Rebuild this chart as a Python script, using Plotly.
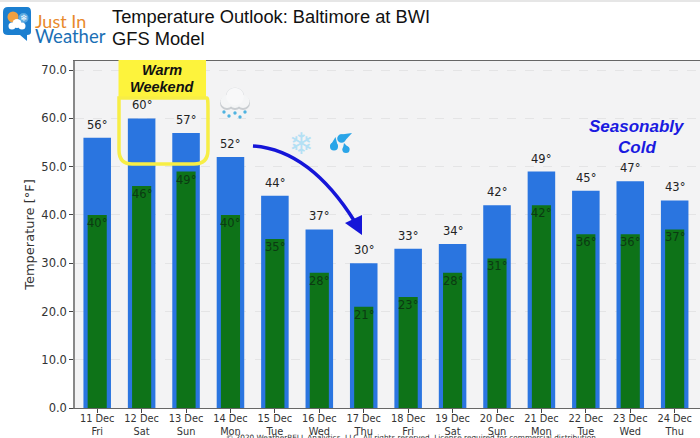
import math
import plotly.graph_objects as go

days = ["11 Dec", "12 Dec", "13 Dec", "14 Dec", "15 Dec", "16 Dec", "17 Dec",
        "18 Dec", "19 Dec", "20 Dec", "21 Dec", "22 Dec", "23 Dec", "24 Dec"]
weekdays = ["Fri", "Sat", "Sun", "Mon", "Tue", "Wed", "Thu",
            "Fri", "Sat", "Sun", "Mon", "Tue", "Wed", "Thu"]
highs = [56, 60, 57, 52, 44, 37, 30, 33, 34, 42, 49, 45, 47, 43]
lows = [40, 46, 49, 40, 35, 28, 21, 23, 28, 31, 42, 36, 36, 37]
y_ticks = [0, 10, 20, 30, 40, 50, 60, 70]

W, H = 700, 438
labels = [f"{d}<br>{w}" for d, w in zip(days, weekdays)]


# pixel position on the picture -> paper coords
def px(x, y):
    return f"{x / W:.4f},{1 - y / H:.4f}"


def path_shape(d, **kw):
    return dict(type="path", xref="paper", yref="paper", path=d, layer="above", **kw)


def circle(x, y, r, fill):
    return dict(type="circle", xref="paper", yref="paper", layer="above",
                x0=(x - r) / W, x1=(x + r) / W, y0=1 - (y + r) / H, y1=1 - (y - r) / H,
                fillcolor=fill, line=dict(width=0))


def drop(cx, cy, r, tx, ty, fill="#2aa5e8"):
    # round blob plus a pointed tip
    a = math.atan2(ty - cy, tx - cx) + math.pi / 2
    ox, oy = r * math.cos(a), r * math.sin(a)
    tip = path_shape(f"M{px(cx + ox, cy + oy)} L{px(tx, ty)} L{px(cx - ox, cy - oy)} Z",
                     fillcolor=fill, line=dict(width=0))
    return [tip, circle(cx, cy, r, fill)]


def label(x, y, text, size, color, font="Liberation Sans", anchor="center"):
    return dict(xref="paper", yref="paper", x=x / W, y=1 - y / H, text=text, showarrow=False,
                xanchor=anchor, yanchor="middle", font=dict(family=font, size=size, color=color))


fig = go.Figure()
fig.add_bar(x=labels, y=highs, width=0.62, marker=dict(color="#2a75e0", line=dict(width=0)), hoverinfo="skip")
fig.add_bar(x=labels, y=lows, width=0.43, marker=dict(color="#0e7318", line=dict(width=0)), hoverinfo="skip")

shapes = [
    # thin strip along the top of the picture
    dict(type="rect", xref="paper", yref="paper", x0=0, x1=1, y0=1 - 2 / H, y1=1,
         fillcolor="#e6e6e6", line=dict(width=0), layer="above"),
    # warm weekend box
    path_shape(f"M{px(118.5, 60)} L{px(206, 60)} L{px(206, 98)} L{px(118.5, 98)} Z",
               fillcolor="#fdf33c", line=dict(width=0)),
    path_shape(f"M{px(119, 98)} L{px(207, 98)} Q{px(208, 98)} {px(208, 108)} L{px(208, 150)} "
               f"Q{px(208, 164)} {px(194, 164)} L{px(132, 164)} Q{px(119, 164)} {px(119, 150)} Z",
               line=dict(color="#f7ee45", width=3.5)),
    # arrow
    path_shape(f"M{px(253, 146)} Q{px(310, 150)} {px(355, 222)}", line=dict(color="#1515d8", width=3.5)),
    path_shape(f"M{px(345, 223)} L{px(362, 215)} L{px(362, 235)} Z", fillcolor="#1515d8", line=dict(width=0)),
    # logo badge
    path_shape(f"M{px(8, 7)} L{px(27, 7)} Q{px(31, 7)} {px(31, 12)} L{px(31, 32)} Q{px(31, 35)} {px(27, 35)} "
               f"L{px(27, 41)} L{px(20, 35)} L{px(8, 35)} Q{px(3, 35)} {px(3, 31)} L{px(3, 12)} Q{px(3, 7)} {px(8, 7)} Z",
               fillcolor="#1b7fd0", line=dict(width=0)),
    circle(13, 17, 5.5, "#f0a040"),
    circle(23.5, 18, 5, "#5aa8e0"),
    circle(12, 26, 3.5, "#ffffff"),
    circle(17, 23.5, 4.5, "#ffffff"),
    circle(22, 26, 3.5, "#ffffff"),
    # rain cloud icon, grey underside first
    circle(227, 103, 7, "#c9cdd1"),
    circle(243, 103, 7, "#c9cdd1"),
    circle(235, 103, 7, "#c9cdd1"),
    circle(235, 97, 9.5, "#d9dcdf"),
    circle(227, 101.5, 6.5, "#f4f5f6"),
    circle(243, 101.5, 6.5, "#f4f5f6"),
    circle(235, 101.5, 6.5, "#f4f5f6"),
    circle(235, 96.5, 8.8, "#f8f8f9"),
]
for dx, dy in [(224, 112), (229, 116), (235, 113), (240, 117), (245, 112)]:
    shapes.append(circle(dx, dy, 1.7, "#4fb3e0"))
shapes += drop(341.5, 138.5, 4.3, 352, 133)
shapes += drop(334, 146.5, 4, 335.5, 137)
shapes += drop(346, 149.5, 3.6, 344, 143)

annotations = [
    label(110, 17, "Temperature Outlook: Baltimore at BWI", 18.3, "#111111", anchor="left"),
    label(110, 38, "GFS Model", 18.3, "#111111", anchor="left"),
    label(33, 21, "Just In", 18, "#e8892b", font="Lato", anchor="left"),
    label(33, 36, "Weather", 18.5, "#1a6fb5", font="Lato", anchor="left"),
    label(24, 18, "❄", 9, "#ffffff", font="DejaVu Sans"),
    label(162, 70, "<b><i>Warm</i></b>", 14.5, "#111111"),
    label(162, 87, "<b><i>Weekend</i></b>", 14.5, "#111111"),
    label(637, 126, "<b><i>Seasonably</i></b>", 17, "#1a1ae0"),
    label(637, 147, "<b><i>Cold</i></b>", 17, "#1a1ae0"),
    label(301, 143, "❄", 30, "#b4e0f4", font="DejaVu Sans"),
    label(412, 437, "© 2020 WeatherBELL Analytics, LLC. All rights reserved. License required for commercial distribution.",
          7.3, "#333333", font="DejaVu Sans"),
]
# value labels: highs sit above the blue bar, lows just inside the green one
for lab, hi, lo in zip(labels, highs, lows):
    annotations.append(dict(x=lab, y=hi, yshift=13, text=f"{hi}°", showarrow=False,
                            font=dict(family="DejaVu Sans", size=11.5, color="#222222")))
    annotations.append(dict(x=lab, y=lo, yshift=-8, text=f"{lo}°", showarrow=False,
                            font=dict(family="DejaVu Sans", size=11.5, color="#0b3a12")))

fig.update_layout(
    width=W, height=H, margin=dict(l=0, r=0, t=0, b=0, pad=0),
    barmode="overlay", showlegend=False, paper_bgcolor="white", plot_bgcolor="#f3f3f4",
    font=dict(family="DejaVu Sans", size=11.5, color="#222222"),
    shapes=shapes, annotations=annotations, hovermode=False,
)
fig.update_xaxes(domain=[75 / W, 1], range=[-0.5, 13.57], tickmode="array", tickvals=labels, ticktext=labels,
                 automargin=False, ticks="outside", ticklen=4, tickcolor="#444444", ticklabelstandoff=-3,
                 tickfont=dict(size=9.8, color="#333333"),
                 showline=True, linecolor="#666666", linewidth=1.2, mirror=True, showgrid=False)
fig.update_yaxes(domain=[1 - 408 / H, 1 - 61 / H], range=[0, 71.9], tickmode="array", tickvals=y_ticks,
                 automargin=False, tickformat=".1f", ticks="outside", ticklen=4, tickcolor="#444444",
                 tickfont=dict(size=11.5, color="#333333"),
                 showline=True, linecolor="#888888", linewidth=1.5, showgrid=True, gridcolor="#e4e4e5", gridwidth=1,
                 griddash="dash", zeroline=False,
                 title=dict(text="Temperature [°F]", font=dict(size=13, color="#333333"), standoff=4))

# the page's default body margin would push the chart off the window
fig.write_html("out.html", config=dict(displayModeBar=False),
               post_script="document.body.style.margin='0';document.body.style.overflow='hidden';")
